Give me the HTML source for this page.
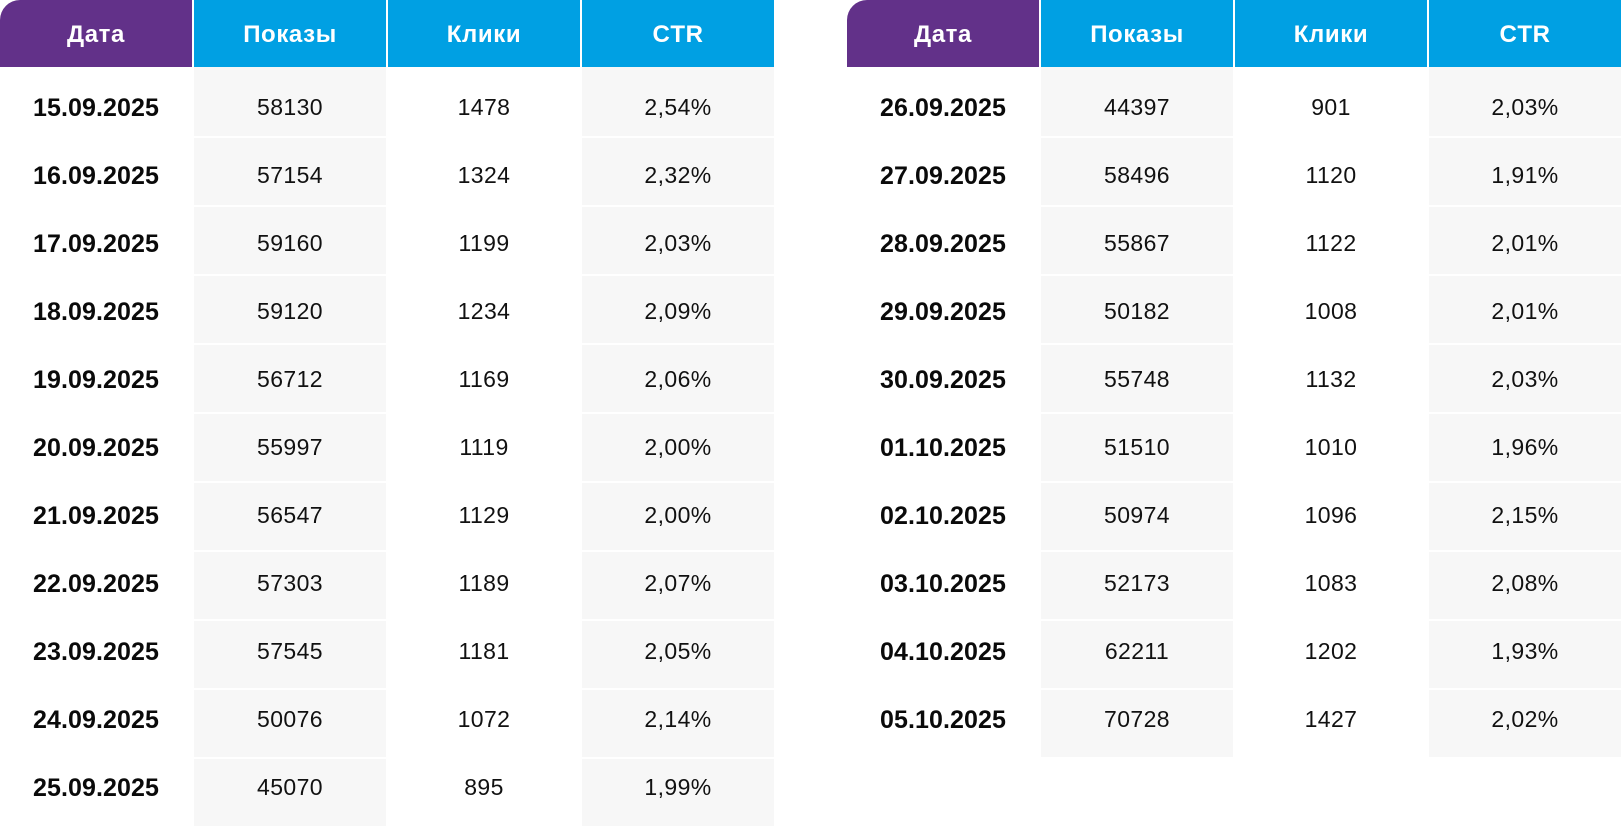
<!DOCTYPE html>
<html>
<head>
<meta charset="utf-8">
<style>
  html,body{margin:0;padding:0;background:#fff;}
  body{width:1621px;height:826px;position:relative;overflow:hidden;font-family:"Liberation Sans",Arial,sans-serif;}
  .t{position:absolute;top:0;width:774px;height:826px;}
  .row{position:absolute;left:0;width:774px;display:flex;gap:2px;}
  .row > div{width:192px;height:100%;}
  .g{background:#f7f7f7;}
  .tx{position:absolute;left:0;width:774px;height:68px;display:flex;gap:2px;}
  .tx > div{width:192px;height:100%;box-sizing:border-box;display:flex;align-items:center;justify-content:center;font-size:23px;letter-spacing:0.4px;color:#111;}
  .tx > div.d{font-weight:bold;font-size:25px;letter-spacing:0.1px;color:#0a0a0a;padding-top:2px;}
  .h{top:0;height:67px;}
  .h > div{display:flex;align-items:center;justify-content:center;box-sizing:border-box;color:#fff;font-weight:bold;font-size:24px;letter-spacing:0.6px;padding-top:2px;background:#00a0e3;}
  .h > div.p{background:#623189;border-top-left-radius:20px;}
</style>
</head>
<body>

<div class="t" style="left:0">
  <div class="row h"><div class="p">Дата</div><div>Показы</div><div>Клики</div><div>CTR</div></div>
  <div class="row" style="top:67px;height:69px"><div></div><div class="g"></div><div></div><div class="g"></div></div>
  <div class="row" style="top:138px;height:67px"><div></div><div class="g"></div><div></div><div class="g"></div></div>
  <div class="row" style="top:207px;height:67px"><div></div><div class="g"></div><div></div><div class="g"></div></div>
  <div class="row" style="top:276px;height:67px"><div></div><div class="g"></div><div></div><div class="g"></div></div>
  <div class="row" style="top:345px;height:67px"><div></div><div class="g"></div><div></div><div class="g"></div></div>
  <div class="row" style="top:414px;height:67px"><div></div><div class="g"></div><div></div><div class="g"></div></div>
  <div class="row" style="top:483px;height:67px"><div></div><div class="g"></div><div></div><div class="g"></div></div>
  <div class="row" style="top:552px;height:67px"><div></div><div class="g"></div><div></div><div class="g"></div></div>
  <div class="row" style="top:621px;height:67px"><div></div><div class="g"></div><div></div><div class="g"></div></div>
  <div class="row" style="top:690px;height:67px"><div></div><div class="g"></div><div></div><div class="g"></div></div>
  <div class="row" style="top:759px;height:67px"><div></div><div class="g"></div><div></div><div class="g"></div></div>

  <div class="tx" style="top:73px"><div class="d">15.09.2025</div><div>58130</div><div>1478</div><div>2,54%</div></div>
  <div class="tx" style="top:141px"><div class="d">16.09.2025</div><div>57154</div><div>1324</div><div>2,32%</div></div>
  <div class="tx" style="top:209px"><div class="d">17.09.2025</div><div>59160</div><div>1199</div><div>2,03%</div></div>
  <div class="tx" style="top:277px"><div class="d">18.09.2025</div><div>59120</div><div>1234</div><div>2,09%</div></div>
  <div class="tx" style="top:345px"><div class="d">19.09.2025</div><div>56712</div><div>1169</div><div>2,06%</div></div>
  <div class="tx" style="top:413px"><div class="d">20.09.2025</div><div>55997</div><div>1119</div><div>2,00%</div></div>
  <div class="tx" style="top:481px"><div class="d">21.09.2025</div><div>56547</div><div>1129</div><div>2,00%</div></div>
  <div class="tx" style="top:549px"><div class="d">22.09.2025</div><div>57303</div><div>1189</div><div>2,07%</div></div>
  <div class="tx" style="top:617px"><div class="d">23.09.2025</div><div>57545</div><div>1181</div><div>2,05%</div></div>
  <div class="tx" style="top:685px"><div class="d">24.09.2025</div><div>50076</div><div>1072</div><div>2,14%</div></div>
  <div class="tx" style="top:753px"><div class="d">25.09.2025</div><div>45070</div><div>895</div><div>1,99%</div></div>
</div>

<div class="t" style="left:847px">
  <div class="row h"><div class="p">Дата</div><div>Показы</div><div>Клики</div><div>CTR</div></div>
  <div class="row" style="top:67px;height:69px"><div></div><div class="g"></div><div></div><div class="g"></div></div>
  <div class="row" style="top:138px;height:67px"><div></div><div class="g"></div><div></div><div class="g"></div></div>
  <div class="row" style="top:207px;height:67px"><div></div><div class="g"></div><div></div><div class="g"></div></div>
  <div class="row" style="top:276px;height:67px"><div></div><div class="g"></div><div></div><div class="g"></div></div>
  <div class="row" style="top:345px;height:67px"><div></div><div class="g"></div><div></div><div class="g"></div></div>
  <div class="row" style="top:414px;height:67px"><div></div><div class="g"></div><div></div><div class="g"></div></div>
  <div class="row" style="top:483px;height:67px"><div></div><div class="g"></div><div></div><div class="g"></div></div>
  <div class="row" style="top:552px;height:67px"><div></div><div class="g"></div><div></div><div class="g"></div></div>
  <div class="row" style="top:621px;height:67px"><div></div><div class="g"></div><div></div><div class="g"></div></div>
  <div class="row" style="top:690px;height:67px"><div></div><div class="g"></div><div></div><div class="g"></div></div>

  <div class="tx" style="top:73px"><div class="d">26.09.2025</div><div>44397</div><div>901</div><div>2,03%</div></div>
  <div class="tx" style="top:141px"><div class="d">27.09.2025</div><div>58496</div><div>1120</div><div>1,91%</div></div>
  <div class="tx" style="top:209px"><div class="d">28.09.2025</div><div>55867</div><div>1122</div><div>2,01%</div></div>
  <div class="tx" style="top:277px"><div class="d">29.09.2025</div><div>50182</div><div>1008</div><div>2,01%</div></div>
  <div class="tx" style="top:345px"><div class="d">30.09.2025</div><div>55748</div><div>1132</div><div>2,03%</div></div>
  <div class="tx" style="top:413px"><div class="d">01.10.2025</div><div>51510</div><div>1010</div><div>1,96%</div></div>
  <div class="tx" style="top:481px"><div class="d">02.10.2025</div><div>50974</div><div>1096</div><div>2,15%</div></div>
  <div class="tx" style="top:549px"><div class="d">03.10.2025</div><div>52173</div><div>1083</div><div>2,08%</div></div>
  <div class="tx" style="top:617px"><div class="d">04.10.2025</div><div>62211</div><div>1202</div><div>1,93%</div></div>
  <div class="tx" style="top:685px"><div class="d">05.10.2025</div><div>70728</div><div>1427</div><div>2,02%</div></div>
</div>

</body>
</html>
